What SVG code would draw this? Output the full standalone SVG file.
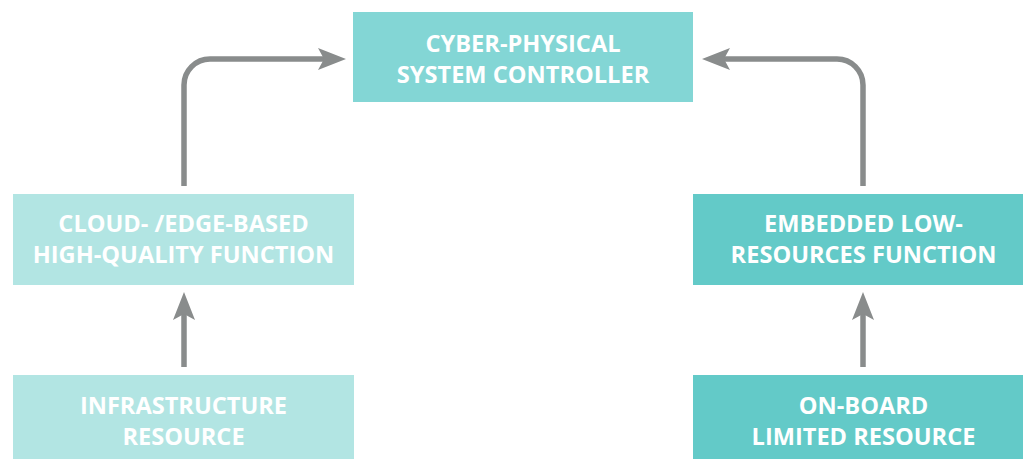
<svg xmlns="http://www.w3.org/2000/svg" width="1023" height="459" viewBox="0 0 1023 459">
  <style>
    .lbl { font-family: "Open Sans", "Liberation Sans", sans-serif; font-weight: 700; font-size: 23.6px; fill: #ffffff; text-anchor: middle; }
    .conn { fill: none; stroke: #898c8c; stroke-width: 5.5; }
    .top { fill: #83d6d5; }
    .light { fill: #b2e5e3; }
    .dark { fill: #63cac8; }
  </style>
  <defs>
    <marker id="arrow" markerUnits="userSpaceOnUse" markerWidth="28" markerHeight="22" viewBox="0 0 28 22" refX="6" refY="11" orient="auto">
      <path d="M0,0 L28,11 L0,22 L6,11 Z" fill="#898c8c"/>
    </marker>
  </defs>
  <rect width="1023" height="459" fill="#ffffff"/>
  <g id="cps-controller">
    <rect class="top" x="353" y="12" width="340" height="90"/>
    <text class="lbl" x="523" y="52">CYBER-PHYSICAL</text>
    <text class="lbl" x="523" y="83">SYSTEM CONTROLLER</text>
  </g>
  <g id="cloud-function">
    <rect class="light" x="13" y="194" width="341" height="91"/>
    <text class="lbl" x="183.5" y="232">CLOUD- /EDGE-BASED</text>
    <text class="lbl" x="183.5" y="263">HIGH-QUALITY FUNCTION</text>
  </g>
  <g id="infrastructure-resource">
    <rect class="light" x="13" y="375" width="341" height="90"/>
    <text class="lbl" x="183.5" y="414">INFRASTRUCTURE</text>
    <text class="lbl" x="183.5" y="445">RESOURCE</text>
  </g>
  <g id="embedded-function">
    <rect class="dark" x="693" y="194" width="341" height="91"/>
    <text class="lbl" x="863.5" y="232">EMBEDDED LOW-</text>
    <text class="lbl" x="863.5" y="263">RESOURCES FUNCTION</text>
  </g>
  <g id="onboard-resource">
    <rect class="dark" x="693" y="375" width="341" height="90"/>
    <text class="lbl" x="863.5" y="414">ON-BOARD</text>
    <text class="lbl" x="863.5" y="445">LIMITED RESOURCE</text>
  </g>
  <g id="connectors">
    <path class="conn" d="M184,186 V85 A26,26 0 0 1 210,59 H324" marker-end="url(#arrow)"/>
    <path class="conn" d="M863,186 V85 A26,26 0 0 0 837,59 H724" marker-end="url(#arrow)"/>
    <path class="conn" d="M184,367 V314" marker-end="url(#arrow)"/>
    <path class="conn" d="M863,367 V314" marker-end="url(#arrow)"/>
  </g>
</svg>
